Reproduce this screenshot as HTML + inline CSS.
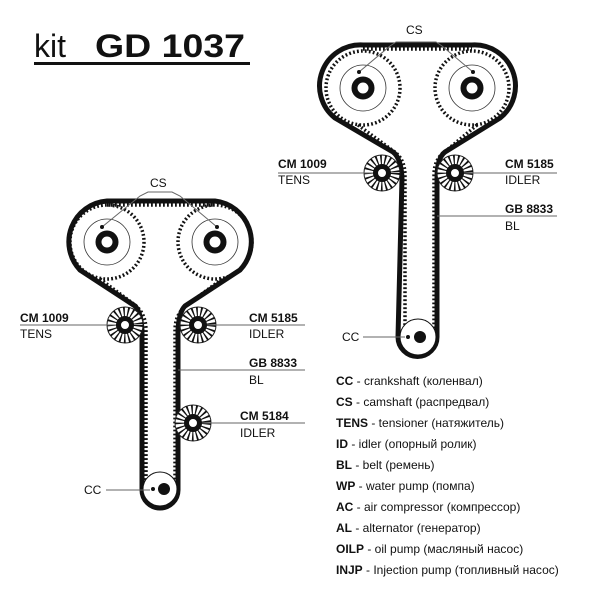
<!DOCTYPE html>
<html><head><meta charset="utf-8"><style>
html,body{margin:0;padding:0;background:#fff;}
svg{display:block;}
text{font-family:"Liberation Sans","DejaVu Sans",sans-serif;fill:#111;}
.b{font-weight:bold;}
</style></head><body>
<svg width="600" height="600" viewBox="0 0 600 600" xmlns="http://www.w3.org/2000/svg">
<defs>
<g id="cam">
  <circle r="37" fill="none" stroke="#111" stroke-width="3.5" stroke-dasharray="1.8 2.2"/>
  <circle r="35" fill="#fff" stroke="none"/>
  <circle r="23" fill="none" stroke="#333" stroke-width="0.8"/>
  <circle r="8.5" fill="#fff" stroke="#111" stroke-width="6"/>
</g>
<g id="pul">
  <circle r="18" fill="#fff" stroke="#222" stroke-width="1"/>
  <circle r="12.5" fill="none" stroke="#111" stroke-width="11" stroke-dasharray="1.4 2.4"/>
  <circle r="6.5" fill="#fff" stroke="#111" stroke-width="5"/>
</g>
</defs>

<!-- header -->
<text x="34" y="57" font-size="32">kit</text>
<text x="95" y="57" font-size="32" class="b" textLength="150" lengthAdjust="spacingAndGlyphs">GD 1037</text>
<rect x="34" y="62" width="216" height="3" fill="#111"/>

<!-- LEFT DIAGRAM -->
<use href="#cam" x="107" y="242"/>
<use href="#cam" x="215" y="242"/>
<g stroke="#111" stroke-width="3.5" stroke-dasharray="1.8 2.2" fill="none">
  <path d="M107,205 L215,205"/>
  <path d="M100,279 L135,305 Q146,314 146,330 L146,488"/>
  <path d="M222,279 L187,305 Q175,314 175,330 L175,488"/>
</g>
<path d="M107,201 L215,201 A41,41 0 0 1 240,270 L185,306 Q179,312 178,330 L178,490 A18,18 0 0 1 142,490 L142,330 Q141,312 135,306 L80,270 A41,41 0 0 1 107,201 Z" fill="none" stroke="#111" stroke-width="5" stroke-linejoin="round"/>
<circle cx="160" cy="489" r="17" fill="#fff" stroke="#111" stroke-width="1"/>
<circle cx="164" cy="489" r="6" fill="#111"/>
<circle cx="153" cy="489" r="2" fill="#111"/>
<use href="#pul" x="125" y="325"/>
<use href="#pul" x="198" y="325"/>
<use href="#pul" x="193" y="423"/>
<g stroke="#666" stroke-width="1" fill="none">
  <path d="M20,325 L118,325"/>
  <path d="M205,325 L305,325"/>
  <path d="M178,370 L305,370"/>
  <path d="M200,423 L305,423"/>
  <path d="M106,490 L150,490"/>
  <path d="M102,227 L140,196 L148,192 L172,192 L180,196 L217,227"/>
</g>
<circle cx="102" cy="227" r="2" fill="#111"/><circle cx="217" cy="227" r="2" fill="#111"/>
<circle cx="118" cy="325" r="2" fill="#111"/><circle cx="205" cy="325" r="2" fill="#111"/><circle cx="200" cy="423" r="2" fill="#111"/>
<text x="150" y="187" font-size="12">CS</text>
<text x="20" y="322" font-size="12" class="b">CM 1009</text>
<text x="20" y="338" font-size="12">TENS</text>
<text x="249" y="322" font-size="12" class="b">CM 5185</text>
<text x="249" y="338" font-size="12">IDLER</text>
<text x="249" y="367" font-size="12" class="b">GB 8833</text>
<text x="249" y="384" font-size="12">BL</text>
<text x="240" y="420" font-size="12" class="b">CM 5184</text>
<text x="240" y="437" font-size="12">IDLER</text>
<text x="84" y="494" font-size="12">CC</text>

<!-- RIGHT DIAGRAM -->
<use href="#cam" x="363" y="88"/>
<use href="#cam" x="472" y="88"/>
<g stroke="#111" stroke-width="3.5" stroke-dasharray="1.8 2.2" fill="none">
  <path d="M363,49 L472,49"/>
  <path d="M358,125 L392,150 Q405,158 405,175 L405,335"/>
  <path d="M477,125 L447,150 Q434,158 434,175 L434,335"/>
</g>
<path d="M363,45 L472,45 A41,41 0 0 1 500,118 L445,152 Q437,158 437,178 L437,337 A19.5,19.5 0 0 1 398,337 L402,178 Q401,158 393,152 L335,118 A41,41 0 0 1 363,45 Z" fill="none" stroke="#111" stroke-width="5" stroke-linejoin="round"/>
<circle cx="418" cy="337" r="18" fill="#fff" stroke="#111" stroke-width="1"/>
<circle cx="420" cy="337" r="6" fill="#111"/>
<circle cx="408" cy="337" r="2" fill="#111"/>
<use href="#pul" x="382" y="173"/>
<use href="#pul" x="455" y="173"/>
<g stroke="#666" stroke-width="1" fill="none">
  <path d="M278,173 L375,173"/>
  <path d="M462,173 L557,173"/>
  <path d="M437,216 L557,216"/>
  <path d="M363,337 L405,337"/>
  <path d="M359,72 L390,46 L396,42 L436,42 L442,46 L473,72"/>
</g>
<circle cx="359" cy="72" r="2" fill="#111"/><circle cx="473" cy="72" r="2" fill="#111"/>
<circle cx="375" cy="173" r="2" fill="#111"/><circle cx="462" cy="173" r="2" fill="#111"/>
<text x="406" y="34" font-size="12">CS</text>
<text x="278" y="168" font-size="12" class="b">CM 1009</text>
<text x="278" y="184" font-size="12">TENS</text>
<text x="505" y="168" font-size="12" class="b">CM 5185</text>
<text x="505" y="184" font-size="12">IDLER</text>
<text x="505" y="213" font-size="12" class="b">GB 8833</text>
<text x="505" y="230" font-size="12">BL</text>
<text x="342" y="341" font-size="12">CC</text>

<!-- legend -->
<g font-size="12">
<text x="336" y="385"><tspan class="b">CC</tspan> - crankshaft (коленвал)</text>
<text x="336" y="406"><tspan class="b">CS</tspan> - camshaft (распредвал)</text>
<text x="336" y="427"><tspan class="b">TENS</tspan> - tensioner (натяжитель)</text>
<text x="336" y="448"><tspan class="b">ID</tspan> - idler (опорный ролик)</text>
<text x="336" y="469"><tspan class="b">BL</tspan> - belt (ремень)</text>
<text x="336" y="490"><tspan class="b">WP</tspan> - water pump (помпа)</text>
<text x="336" y="511"><tspan class="b">AC</tspan> - air compressor (компрессор)</text>
<text x="336" y="532"><tspan class="b">AL</tspan> - alternator (генератор)</text>
<text x="336" y="553"><tspan class="b">OILP</tspan> - oil pump (масляный насос)</text>
<text x="336" y="574"><tspan class="b">INJP</tspan> - Injection pump (топливный насос)</text>
</g>
</svg>
</body></html>
